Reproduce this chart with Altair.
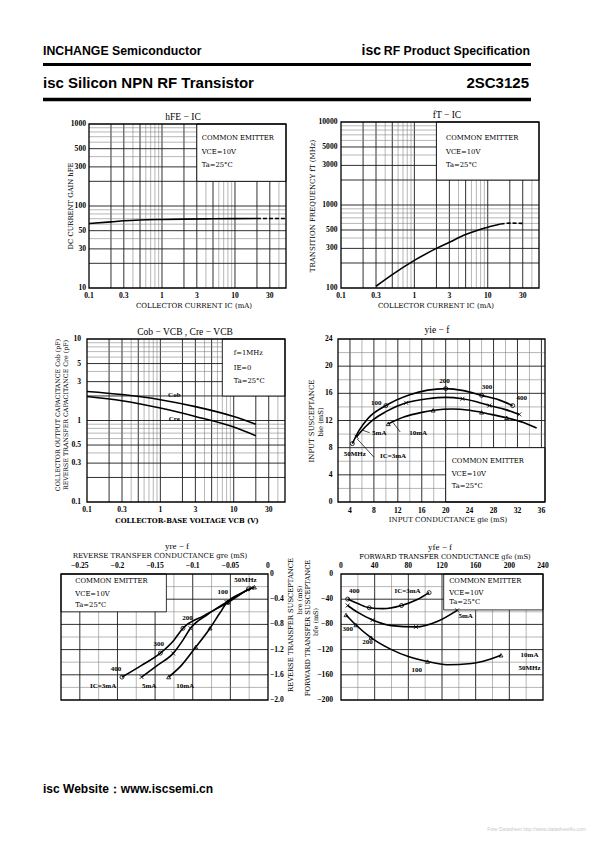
import altair as alt
import pandas as pd

W, H = 579, 826
OX, OY = 8, 8
SERIF = "Liberation Serif"
WSERIF = "DejaVu Serif"
SANS = "Liberation Sans"
DARK = "#1a1a1a"
LIGHT = "#7a7a7a"
XPATH = "M-1,-1L1,1M1,-1L-1,1"
TICK_SIZE = 7.6


def px(x):
    return x - OX


def py(y):
    return y - OY


# ---------------- data ----------------
# Panel 1: hFE - IC
P1_IC = [0.1, 0.2, 0.3, 0.5, 1, 2, 5, 10, 20]
P1_HFE = [61, 64, 66, 67.5, 68.5, 69.2, 69.8, 70.2, 70.5]
P1_IC_EXT = [20, 50]
P1_HFE_EXT = [70.5, 70.5]

# Panel 2: fT - IC
P2_IC = [0.3, 0.5, 1, 2, 3, 5, 10, 15]
P2_FT = [105, 145, 215, 300, 355, 440, 540, 590]
P2_IC_EXT = [15, 20, 30]
P2_FT_EXT = [590, 605, 600]

# Panel 3: Cob, Cre - VCB
P3_VCB = [0.1, 0.3, 1, 3, 10, 20]
P3_COB = [2.27, 2.08, 1.8, 1.48, 1.12, 0.9]
P3_CRE = [1.97, 1.75, 1.42, 1.12, 0.83, 0.65]

# Panel 4: yie - f  (gie, bie)
P4_G_3 = [4.4, 5.5, 7.0, 10.0, 14.0, 20.0, 23.0, 26.0, 29.0, 31.2]
P4_B_3 = [8.6, 10.5, 12.3, 14.2, 15.8, 16.7, 16.4, 15.7, 15.0, 14.2]
P4_G_5 = [5.1, 6.5, 8.0, 10.0, 13.4, 17.0, 20.0, 22.8, 25.0, 27.3, 30.0, 32.3]
P4_B_5 = [9.6, 11.0, 12.2, 13.3, 14.6, 15.2, 15.4, 15.2, 14.8, 14.2, 13.6, 12.9]
P4_G_10 = [10.4, 13.0, 16.0, 18.0, 21.0, 24.0, 27.0, 30.2, 33.0, 35.2]
P4_B_10 = [11.5, 12.5, 13.2, 13.5, 13.7, 13.5, 13.0, 12.4, 11.7, 10.9]
P4_MK_G_3 = [4.4, 10.0, 20.0, 26.0, 31.2]
P4_MK_B_3 = [8.6, 14.2, 16.7, 15.7, 14.2]
P4_MK_G_5 = [5.1, 13.4, 22.8, 27.3, 32.3]
P4_MK_B_5 = [9.6, 14.6, 15.2, 14.2, 12.9]
P4_MK_G_10 = [10.4, 17.9, 26.0, 30.2]
P4_MK_B_10 = [11.5, 13.5, 13.2, 12.4]
P4_LABELS = ["200", "300", "400", "100", "50MHz", "5mA", "10mA", "IC=3mA"]
P4_LAB_G = [19.8, 26.9, 32.7, 8.4, 4.8, 8.9, 15.4, 11.2]
P4_LAB_B = [17.8, 17.0, 15.3, 14.6, 7.1, 10.2, 10.2, 6.7]

# Panel 5: yre - f  (gre, bre)
P5_G_3 = [-0.194, -0.168, -0.143, -0.125, -0.113, -0.085, -0.053, -0.026]
P5_B_3 = [-1.636, -1.45, -1.256, -1.05, -0.862, -0.66, -0.451, -0.236]
P5_G_5 = [-0.168, -0.147, -0.126, -0.113, -0.103, -0.08, -0.055, -0.022]
P5_B_5 = [-1.636, -1.45, -1.26, -1.05, -0.862, -0.64, -0.446, -0.22]
P5_G_10 = [-0.132, -0.115, -0.096, -0.077, -0.064, -0.054, -0.035, -0.018]
P5_B_10 = [-1.636, -1.45, -1.16, -0.86, -0.62, -0.446, -0.3, -0.21]
P5_MK_G_3 = [-0.194, -0.143, -0.113, -0.053, -0.026]
P5_MK_B_3 = [-1.636, -1.256, -0.862, -0.451, -0.236]
P5_MK_G_5 = [-0.168, -0.126, -0.103, -0.055, -0.022]
P5_MK_B_5 = [-1.636, -1.26, -0.862, -0.446, -0.22]
P5_MK_G_10 = [-0.132, -0.096, -0.077, -0.054, -0.018]
P5_MK_B_10 = [-1.636, -1.16, -0.86, -0.446, -0.21]
P5_LABELS = ["50MHz", "100", "200", "300", "400", "IC=3mA", "5mA", "10mA"]
P5_LAB_G = [-0.03, -0.06, -0.107, -0.145, -0.202, -0.219, -0.158, -0.11]
P5_LAB_B = [-0.1, -0.29, -0.7, -1.11, -1.51, -1.78, -1.78, -1.78]

# Panel 6: yfe - f  (gfe, bfe)
P6_G_3 = [7.9, 20, 33.6, 50, 71.9, 90, 104.7]
P6_B_3 = [-39.8, -47, -53.6, -55, -50, -41, -29.6]
P6_G_5 = [7.9, 20, 37.5, 60, 89, 115, 138]
P6_B_5 = [-50, -61, -73, -82, -84, -75, -57.7]
P6_G_10 = [6, 17.8, 35.6, 60, 80, 102.8, 126, 155, 175, 190]
P6_B_10 = [-65, -81, -101, -120, -131, -139, -144, -142, -136, -129]
P6_MK_G_3 = [7.9, 33.6, 71.9, 104.7]
P6_MK_B_3 = [-39.8, -53.6, -50, -29.6]
P6_MK_G_5 = [7.9, 37.5, 89, 138]
P6_MK_B_5 = [-50, -73, -84, -57.7]
P6_MK_G_10 = [6, 17.8, 35.6, 102.8, 190]
P6_MK_B_10 = [-65, -81, -101, -139, -129]
P6_LABELS = ["400", "300", "200", "100", "IC=3mA", "5mA", "10mA", "50MHz"]
P6_LAB_G = [15.8, 7.9, 31.6, 90, 79, 148, 224, 224]
P6_LAB_B = [-27, -87, -108.7, -152, -27, -67, -129, -149.5]

LEGEND_CE = ["COMMON EMITTER", "VCE=10V", "Ta=25°C"]
LEGEND_CAP = ["f=1MHz", "IE=0", "Ta=25°C"]

# tick values and their printed labels
LOG_X_TICKS = [0.1, 0.3, 1, 3, 10, 30]
LOG_X_LABELS = ["0.1", "0.3", "1", "3", "10", "30"]
P1_Y_TICKS = [10, 30, 50, 100, 300, 500, 1000]
P1_Y_LABELS = ["10", "30", "50", "100", "300", "500", "1000"]
P2_Y_TICKS = [100, 300, 500, 1000, 3000, 5000, 10000]
P2_Y_LABELS = ["100", "300", "500", "1000", "3000", "5000", "10000"]
P3_Y_TICKS = [0.1, 0.3, 0.5, 1, 3, 5, 10]
P3_Y_LABELS = ["0.1", "0.3", "0.5", "1", "3", "5", "10"]
P4_X_TICKS = [4, 8, 12, 16, 20, 24, 28, 32, 36]
P4_X_LABELS = ["4", "8", "12", "16", "20", "24", "28", "32", "36"]
P4_Y_TICKS = [0, 4, 8, 12, 16, 20, 24]
P4_Y_LABELS = ["0", "4", "8", "12", "16", "20", "24"]
P5_X_TICKS = [-0.25, -0.2, -0.15, -0.1, -0.05, 0]
P5_X_LABELS = ["−0.25", "−0.2", "−0.15", "−0.1", "−0.05", "0"]
P5_Y_TICKS = [0, -0.4, -0.8, -1.2, -1.6, -2.0]
P5_Y_LABELS = ["0", "−0.4", "−0.8", "−1.2", "−1.6", "−2.0"]
P6_X_TICKS = [0, 40, 80, 120, 160, 200, 240]
P6_X_LABELS = ["0", "40", "80", "120", "160", "200", "240"]
P6_Y_TICKS = [0, -40, -80, -120, -160, -200]
P6_Y_LABELS = ["0", "−40", "−80", "−120", "−160", "−200"]

# grid lines
LOG_GX = [0.2, 0.3, 0.4, 0.5, 0.6, 0.7, 0.8, 0.9, 1, 2, 3, 4, 5, 6, 7, 8, 9, 10, 20, 30, 40]
LOG_GX_DARK = [0.2, 0.3, 0.5, 1, 2, 3, 5, 10, 20, 30]
P1_GY = [20, 30, 40, 50, 60, 70, 80, 90, 100, 200, 300, 400, 500, 600, 700, 800, 900]
P1_GY_DARK = [20, 30, 50, 100, 200, 300, 500]
P2_GY = [200, 300, 400, 500, 600, 700, 800, 900, 1000, 2000, 3000, 4000, 5000, 6000, 7000, 8000, 9000]
P2_GY_DARK = [200, 300, 500, 1000, 2000, 3000, 5000]
P3_GY = [0.2, 0.3, 0.4, 0.5, 0.6, 0.7, 0.8, 0.9, 1, 2, 3, 4, 5, 6, 7, 8, 9]
P3_GY_DARK = [0.2, 0.3, 0.5, 1, 2, 3, 5]
P4_GX = [4, 6, 8, 10, 12, 14, 16, 18, 20, 22, 24, 26, 28, 30, 32, 34, 36]
P4_GX_DARK = [4, 8, 12, 16, 20, 24, 28, 32, 36]
P4_GY = [2, 4, 6, 8, 10, 12, 14, 16, 18, 20, 22]
P4_GY_DARK = [4, 8, 12, 16, 20]
P5_GX = [-0.25, -0.225, -0.2, -0.175, -0.15, -0.125, -0.1, -0.075, -0.05, -0.025]
P5_GX_DARK = [-0.25, -0.2, -0.15, -0.1, -0.05]
P5_GY = [-0.2, -0.4, -0.6, -0.8, -1.0, -1.2, -1.4, -1.6, -1.8]
P5_GY_DARK = [-0.4, -0.8, -1.2, -1.6]
P6_GX = [20, 40, 60, 80, 100, 120, 140, 160, 180, 200, 220]
P6_GX_DARK = [40, 80, 120, 160, 200]
P6_GY = [-20, -40, -60, -80, -100, -120, -140, -160, -180]
P6_GY_DARK = [-40, -80, -120, -160]

ONE = pd.DataFrame({"k": [0]})


# ---------------- helpers ----------------
def mk_scale(typ, dom, rng, fy=False):
    r = [py(rng[0]), py(rng[1])] if fy else [px(rng[0]), px(rng[1])]
    if typ == "log":
        return alt.Scale(type="log", domain=dom, range=r, nice=False)
    return alt.Scale(type="linear", domain=dom, range=r, nice=False, zero=False)


def ptext(s, x, y, size=7.0, angle=0, align="center", font=SERIF,
          weight="normal", baseline="middle", color="black"):
    return alt.Chart(ONE).mark_text(
        text=s, fontSize=size, angle=angle, align=align, baseline=baseline,
        font=font, fontWeight=weight, color=color
    ).encode(x=alt.value(px(x)), y=alt.value(py(y)))


def prule(x1, x2, y, w):
    return alt.Chart(ONE).mark_rule(strokeWidth=w, color="black").encode(
        x=alt.value(px(x1)), x2=alt.value(px(x2)), y=alt.value(py(y)))


def panel(xs, ys, xdom, ydom, xticks, yticks, gx, gx_dark, gy, gy_dark,
          box, series, dashed=None, markers=None, labels=None,
          legend=None, leaders=None, legend_size=6.8):
    X = lambda f: alt.X(f, scale=xs, axis=None)
    Y = lambda f: alt.Y(f, scale=ys, axis=None)
    layers = []
    rows = []
    for v in gx:
        d = v in gx_dark
        rows.append({"a": v, "a2": v, "b": ydom[0], "b2": ydom[1],
                     "c": DARK if d else LIGHT, "w": 0.9 if d else 0.55})
    for v in gy:
        d = v in gy_dark
        rows.append({"a": xdom[0], "a2": xdom[1], "b": v, "b2": v,
                     "c": DARK if d else LIGHT, "w": 0.9 if d else 0.55})
    layers.append(alt.Chart(pd.DataFrame(rows)).mark_rule().encode(
        x=X("a:Q"), x2="a2:Q", y=Y("b:Q"), y2="b2:Q",
        color=alt.Color("c:N", scale=None),
        strokeWidth=alt.StrokeWidth("w:Q", scale=None)))
    # legend box
    bdf = pd.DataFrame([{"a": box[0], "a2": box[1], "b": box[2], "b2": box[3]}])
    layers.append(alt.Chart(bdf).mark_rect(fill="white", stroke="black", strokeWidth=0.8).encode(
        x=X("a:Q"), x2="a2:Q", y=Y("b:Q"), y2="b2:Q"))
    # frame
    fdf = pd.DataFrame([{"a": xdom[0], "a2": xdom[1], "b": ydom[0], "b2": ydom[1]}])
    layers.append(alt.Chart(fdf).mark_rect(fillOpacity=0, stroke="black", strokeWidth=1.3).encode(
        x=X("a:Q"), x2="a2:Q", y=Y("b:Q"), y2="b2:Q"))
    # tick labels (placed through the panel scales)
    vals, labs, ypix = xticks
    layers.append(alt.Chart(pd.DataFrame({"a": vals, "t": labs})).mark_text(
        font=SERIF, fontSize=TICK_SIZE, fontWeight="bold", color="black", baseline="middle").encode(
        x=X("a:Q"), y=alt.value(py(ypix)), text="t:N"))
    vals, labs, xpix, al = yticks
    layers.append(alt.Chart(pd.DataFrame({"b": vals, "t": labs})).mark_text(
        font=SERIF, fontSize=TICK_SIZE, fontWeight="bold", color="black", baseline="middle", align=al).encode(
        y=Y("b:Q"), x=alt.value(px(xpix)), text="t:N"))
    # curves
    rows = []
    for name, xv, yv in series:
        for a, b in zip(xv, yv):
            rows.append({"a": a, "b": b, "s": name})
    layers.append(alt.Chart(pd.DataFrame(rows)).mark_line(
        interpolate="monotone", color="black", strokeWidth=1.6).encode(
        x=X("a:Q"), y=Y("b:Q"), detail="s:N"))
    if dashed:
        rows = [{"a": a, "b": b} for a, b in zip(dashed[0], dashed[1])]
        layers.append(alt.Chart(pd.DataFrame(rows)).mark_line(
            interpolate="monotone", color="black", strokeWidth=1.6, strokeDash=[4, 2]).encode(
            x=X("a:Q"), y=Y("b:Q")))
    if markers:
        rows = []
        for m, xv, yv in markers:
            for a, b in zip(xv, yv):
                rows.append({"a": a, "b": b, "m": m})
        layers.append(alt.Chart(pd.DataFrame(rows)).mark_point(
            filled=False, color="black", size=16, strokeWidth=0.8, opacity=1).encode(
            x=X("a:Q"), y=Y("b:Q"),
            shape=alt.Shape("m:N", scale=alt.Scale(domain=["o", "x", "t"],
                                                   range=["circle", XPATH, "triangle-up"]),
                            legend=None)))
    if labels:
        rows = [{"a": a, "b": b, "t": t} for t, a, b in zip(*labels)]
        layers.append(alt.Chart(pd.DataFrame(rows)).mark_text(
            font=SERIF, fontSize=7, fontWeight="bold", color="black").encode(
            x=X("a:Q"), y=Y("b:Q"), text="t:N"))
    if legend:
        rows = [{"a": a, "b": b, "t": t} for t, a, b in zip(*legend)]
        layers.append(alt.Chart(pd.DataFrame(rows)).mark_text(
            font=WSERIF, fontSize=legend_size, align="left", color="black").encode(
            x=X("a:Q"), y=Y("b:Q"), text="t:N"))
    if leaders:
        rows = [{"a": l[0], "b": l[1], "a2": l[2], "b2": l[3]} for l in leaders]
        layers.append(alt.Chart(pd.DataFrame(rows)).mark_rule(color="black", strokeWidth=0.7).encode(
            x=X("a:Q"), y=Y("b:Q"), x2="a2:Q", y2="b2:Q"))
    return alt.layer(*layers)


# ---------------- panels ----------------
xs1 = mk_scale("log", [0.1, 50], [89, 286])
ys1 = mk_scale("log", [10, 1000], [288, 124], fy=True)
p1 = panel(xs1, ys1, [0.1, 50], [10, 1000],
           (LOG_X_TICKS, LOG_X_LABELS, 296),
           (P1_Y_TICKS, P1_Y_LABELS, 86, "right"),
           LOG_GX, LOG_GX_DARK, P1_GY, P1_GY_DARK,
           [3, 50, 200, 1000],
           [("hfe", P1_IC, P1_HFE)],
           dashed=(P1_IC_EXT, P1_HFE_EXT),
           legend=(LEGEND_CE, [3.5, 3.5, 3.5], [674, 456, 316]))

xs2 = mk_scale("log", [0.1, 50], [341, 539])
ys2 = mk_scale("log", [100, 10000], [288, 122], fy=True)
p2 = panel(xs2, ys2, [0.1, 50], [100, 10000],
           (LOG_X_TICKS, LOG_X_LABELS, 296),
           (P2_Y_TICKS, P2_Y_LABELS, 337.5, "right"),
           LOG_GX, LOG_GX_DARK, P2_GY, P2_GY_DARK,
           [2, 50, 2000, 10000],
           [("ft", P2_IC, P2_FT)],
           dashed=(P2_IC_EXT, P2_FT_EXT),
           legend=(LEGEND_CE, [2.7, 2.7, 2.7], [6370, 4390, 3030]))

xs3 = mk_scale("log", [0.1, 50], [87, 285])
ys3 = mk_scale("log", [0.1, 10], [502, 339], fy=True)
p3 = panel(xs3, ys3, [0.1, 50], [0.1, 10],
           (LOG_X_TICKS, LOG_X_LABELS, 510),
           (P3_Y_TICKS, P3_Y_LABELS, 81, "right"),
           LOG_GX, LOG_GX_DARK, P3_GY, P3_GY_DARK,
           [7, 50, 2, 10],
           [("cob", P3_VCB, P3_COB), ("cre", P3_VCB, P3_CRE)],
           labels=(["Cob", "Cre"], [1.55, 1.55], [2.07, 1.05]),
           legend=(LEGEND_CAP, [10, 10, 10], [6.7, 4.4, 3.07]))

xs4 = mk_scale("linear", [2, 36.6], [338, 545])
ys4 = mk_scale("linear", [0, 24], [502, 339], fy=True)
p4 = panel(xs4, ys4, [2, 36.6], [0, 24],
           (P4_X_TICKS, P4_X_LABELS, 511),
           (P4_Y_TICKS, P4_Y_LABELS, 332.5, "right"),
           P4_GX, P4_GX_DARK, P4_GY, P4_GY_DARK,
           [20, 36.6, 0, 8],
           [("3", P4_G_3, P4_B_3), ("5", P4_G_5, P4_B_5), ("10", P4_G_10, P4_B_10)],
           markers=[("o", P4_MK_G_3, P4_MK_B_3), ("x", P4_MK_G_5, P4_MK_B_5),
                    ("t", P4_MK_G_10, P4_MK_B_10)],
           labels=(P4_LABELS, P4_LAB_G, P4_LAB_B),
           legend=(LEGEND_CE, [21, 21, 21], [6.1, 4.1, 2.4]),
           leaders=[(8.0, 6.6, 5.2, 9.3), (12.4, 10.3, 11.2, 11.7), (7.3, 10.2, 6.0, 10.6)])

xs5 = mk_scale("linear", [-0.275, 0], [61, 268])
ys5 = mk_scale("linear", [-2, 0], [700, 574], fy=True)
p5 = panel(xs5, ys5, [-0.275, 0], [-2, 0],
           (P5_X_TICKS, P5_X_LABELS, 566),
           (P5_Y_TICKS, P5_Y_LABELS, 270, "left"),
           P5_GX, P5_GX_DARK, P5_GY, P5_GY_DARK,
           [-0.275, -0.135, -0.6, 0],
           [("3", P5_G_3, P5_B_3), ("5", P5_G_5, P5_B_5), ("10", P5_G_10, P5_B_10)],
           markers=[("o", P5_MK_G_3, P5_MK_B_3), ("x", P5_MK_G_5, P5_MK_B_5),
                    ("t", P5_MK_G_10, P5_MK_B_10)],
           labels=(P5_LABELS, P5_LAB_G, P5_LAB_B),
           legend=(LEGEND_CE, [-0.256, -0.256, -0.256], [-0.11, -0.32, -0.49]))

xs6 = mk_scale("linear", [0, 240], [341, 543])
ys6 = mk_scale("linear", [-200, 0], [700, 574], fy=True)
p6 = panel(xs6, ys6, [0, 240], [-200, 0],
           (P6_X_TICKS, P6_X_LABELS, 566),
           (P6_Y_TICKS, P6_Y_LABELS, 333, "right"),
           P6_GX, P6_GX_DARK, P6_GY, P6_GY_DARK,
           [122, 240, -57, 0],
           [("3", P6_G_3, P6_B_3), ("5", P6_G_5, P6_B_5), ("10", P6_G_10, P6_B_10)],
           markers=[("o", P6_MK_G_3, P6_MK_B_3), ("x", P6_MK_G_5, P6_MK_B_5),
                    ("t", P6_MK_G_10, P6_MK_B_10)],
           labels=(P6_LABELS, P6_LAB_G, P6_LAB_B),
           legend=(LEGEND_CE, [128.5, 128.5, 128.5], [-11.7, -29.6, -44]))

# ---------------- page texts ----------------
texts = [
    # header
    ptext("INCHANGE Semiconductor", 43, 55, 12.3, align="left", font=SANS, weight="bold", baseline="alphabetic"),
    ptext("RF Product Specification", 530, 55, 12.3, align="right", font=SANS, weight="bold", baseline="alphabetic"),
    ptext("isc", 381, 55, 14, align="right", font=SANS, weight="bold", baseline="alphabetic"),
    prule(43, 531, 64.5, 3),
    ptext("isc Silicon NPN RF Transistor", 43, 88, 15, align="left", font=SANS, weight="bold", baseline="alphabetic"),
    ptext("2SC3125", 529, 88, 15, align="right", font=SANS, weight="bold", baseline="alphabetic"),
    prule(43, 531, 99.5, 3.3),
    ptext("isc Website：www.iscsemi.cn", 43, 793, 12, align="left", font=SANS, weight="bold", baseline="alphabetic"),
    ptext("Free Datasheet http://www.datasheet4u.com", 586, 829, 5, align="right", font=SANS, color="#c8c8c8"),
    # panel 1
    ptext("hFE − IC", 183, 117, 9.5),
    ptext("COLLECTOR CURRENT  IC  (mA)", 194, 306, 7, font=WSERIF),
    ptext("DC CURRENT GAIN  hFE", 70.5, 206, 6.8, angle=270, font=WSERIF),
    # panel 2
    ptext("fT − IC", 447, 115, 9.5),
    ptext("COLLECTOR CURRENT  IC  (mA)", 436, 305.5, 7, font=WSERIF),
    ptext("TRANSITION FREQUENCY  fT  (MHz)", 313, 206, 7, angle=270, font=WSERIF),
    # panel 3
    ptext("Cob − VCB , Cre − VCB", 185, 332, 9.5),
    ptext("COLLECTOR-BASE VOLTAGE  VCB  (V)", 187, 521, 6.8, weight="bold", font=WSERIF),
    ptext("COLLECTOR OUTPUT CAPACITANCE  Cob  (pF)", 58, 415, 6.3, angle=270, font=WSERIF),
    ptext("REVERSE TRANSFER CAPACITANCE  Cre  (pF)", 65.5, 415, 6.3, angle=270, font=WSERIF),
    # panel 4
    ptext("yie − f", 437, 330, 9.5),
    ptext("INPUT CONDUCTANCE  gie  (mS)", 448, 520, 7, font=WSERIF),
    ptext("INPUT SUSCEPTANCE", 312, 421, 7, angle=270, font=WSERIF),
    ptext("bie  (mS)", 321, 422, 6.8, angle=270, font=WSERIF),
    # panel 5
    ptext("yre − f", 177, 546, 9),
    ptext("REVERSE TRANSFER CONDUCTANCE  gre  (mS)", 160, 556, 7, font=WSERIF),
    ptext("REVERSE TRANSFER SUSCEPTANCE", 290.5, 625, 6.8, angle=270, font=WSERIF),
    ptext("bre  (mS)", 299.5, 600, 6.5, angle=270, font=WSERIF),
    # panel 6
    ptext("yfe − f", 440, 546.7, 9),
    ptext("FORWARD TRANSFER CONDUCTANCE  gfe  (mS)", 445, 556.7, 6.8, font=WSERIF),
    ptext("FORWARD TRANSFER SUSCEPTANCE", 308, 628, 6.8, angle=270, font=WSERIF),
    ptext("bfe  (mS)", 315.5, 622, 6.5, angle=270, font=WSERIF),
]

chart = alt.layer(p1, p2, p3, p4, p5, p6, *texts).resolve_scale(
    x="independent", y="independent"
).properties(
    width=W, height=H, padding=0,
    autosize=alt.AutoSizeParams(type="none"),
).configure_view(stroke=None)

chart.save("out.html", embed_options={"renderer": "svg", "actions": False})
